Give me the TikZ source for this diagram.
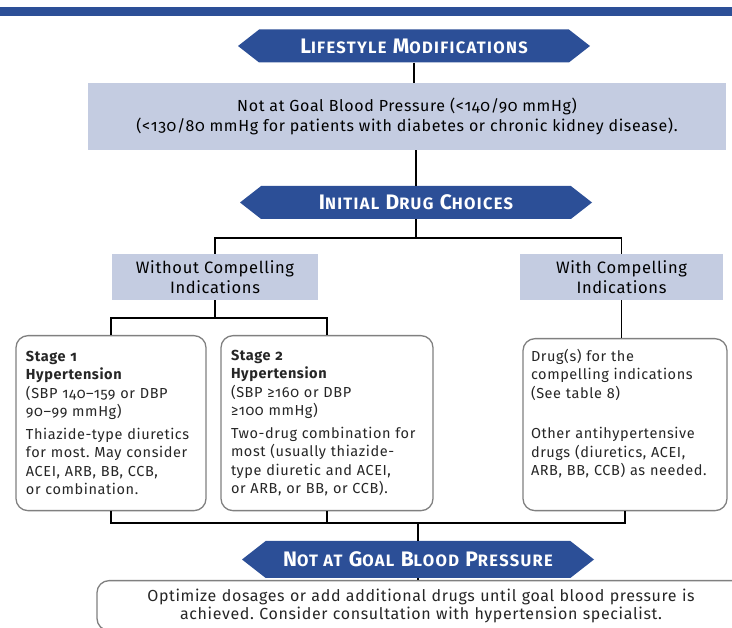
\documentclass[tikz,border=0pt]{standalone}
\usepackage{fontspec}
\setmainfont{Fira Sans}[Numbers=OldStyle, LetterSpace=4]
\usetikzlibrary{shapes.symbols}
\frenchspacing

\definecolor{bannerblue}{RGB}{44,79,151}
\definecolor{paleblue}{RGB}{196,204,225}
\newcommand{\capword}[2]{{\fontsize{21}{21}\selectfont #1}{\fontsize{16.5}{16.5}\selectfont #2}}

\begin{document}
\begin{tikzpicture}[x=1pt, y=-1pt,
    banner/.style={signal, signal to=west and east, signal pointer angle=76,
        fill=bannerblue, text=white,
        font=\fontsize{20}{20}\selectfont\bfseries\addfontfeatures{LetterSpace=8},
        minimum width=352pt, minimum height=33pt, inner sep=0pt},
    shadebox/.style={fill=paleblue, align=center, inner sep=0pt,
        font=\fontsize{16}{20}\selectfont},
    panel/.style={draw=black!50, line width=1.3pt, rounded corners=12pt, fill=white,
        align=left, anchor=north, inner xsep=10pt, text=black!85,
        font=\fontsize{14.5}{18.5}\selectfont},
    link/.style={line width=1.6pt, -}
]
    \useasboundingbox (0,0) rectangle (732,628);
    \fill[bannerblue] (0,7) rectangle (732,16);

    \node[banner] (lifestyle) at (414,46) {\capword{L}{IFESTYLE} \capword{M}{ODIFICATIONS}};
    \node[shadebox, minimum width=638pt, minimum height=67pt] (goal) at (407,116.5)
        {Not at Goal Blood Pressure (<140/90 mmHg)\\
         (<130/80 mmHg for patients with diabetes or chronic kidney disease).};
    \node[banner] (initial) at (416,202.5) {\capword{I}{NITIAL} \capword{D}{RUG} \capword{C}{HOICES}};
    \coordinate (split) at (416,238);
    \node[shadebox, minimum width=206pt, minimum height=46pt, font=\fontsize{16.5}{20}\selectfont]
        (without) at (215,277) {Without Compelling\\Indications};
    \node[shadebox, minimum width=203pt, minimum height=46pt, font=\fontsize{16.5}{20}\selectfont]
        (with) at (621.5,277) {With Compelling\\Indications};
    \coordinate (stagesplit) at (215,318);

    \node[panel, text width=170pt, minimum height=175pt] (stage1) at (111,335)
        {\textbf{Stage 1}\\ \textbf{Hypertension}\\ (SBP 140–159 or DBP\\ 90–99 mmHg)\\[4pt]
         Thiazide-type diuretics\\ for most. May consider\\ ACEI, ARB, BB, CCB,\\ or combination.};
    \node[panel, text width=192pt, minimum height=175pt] (stage2) at (327,335)
        {\textbf{Stage 2}\\ \textbf{Hypertension}\\ (SBP ≥160 or DBP\\ ≥100 mmHg)\\[4pt]
         Two-drug combination for\\ most (usually thiazide-\\ type diuretic and ACEI,\\ or ARB, or BB, or CCB).};
    \node[panel, text width=188pt, inner xsep=8pt, minimum height=172pt] (drugs) at (625,338)
        {Drug(s) for the\\ compelling indications\\ (See table 8)\\[22pt]
         Other antihypertensive\\ drugs (diuretics, ACEI,\\ ARB, BB, CCB) as needed.\\[6pt]\mbox{}};

    \coordinate (merge) at (418,523);
    \node[banner, minimum height=37pt] (notgoal) at (418,559.5)
        {\capword{N}{OT AT} \capword{G}{OAL} \capword{B}{LOOD} \capword{P}{RESSURE}};
    \node[panel, align=center, text width=628pt, inner ysep=8pt,
        font=\fontsize{16}{18}\selectfont] (optimize) at (421,580)
        {Optimize dosages or add additional drugs until goal blood pressure is\\
         achieved. Consider consultation with hypertension specialist.};

    \draw[link] (lifestyle.south) -- (lifestyle.south |- goal.north);
    \draw[link] (initial.north |- goal.south) -- (initial.north);
    \draw[link] (initial.south) -- (split);
    \draw[link] (without.north) |- (split) -| (with.north);
    \draw[link] (without.south) -- (stagesplit);
    \draw[link] (stage1.north) |- (stagesplit) -| (stage2.north);
    \draw[link] (with.south) -- (with.south |- drugs.north);
    \draw[link] (stage1.south) |- (merge) -| (stage2.south);
    \draw[link] (merge) -| (drugs.south);
    \draw[link] (merge) -- (notgoal.north);
    \draw[link] (notgoal.south) -- (notgoal.south |- optimize.north);
\end{tikzpicture}
\end{document}
